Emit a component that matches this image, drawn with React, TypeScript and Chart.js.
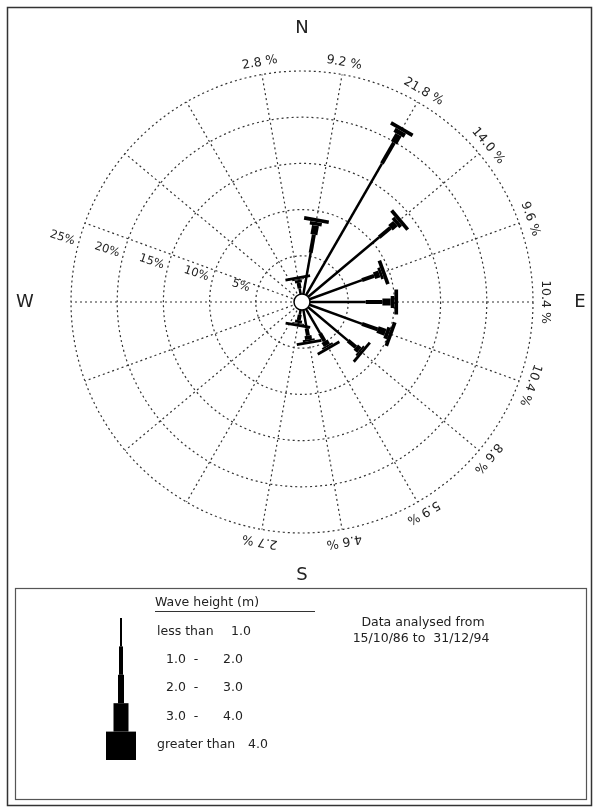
import React, { useEffect, useRef } from 'react';
import { Chart, registerables } from 'chart.js';

Chart.register(...registerables);

// Directions (sector centres, degrees clockwise from north)
const directions = ['10°', '30°', '50°', '70°', '90°', '110°', '130°', '150°', '170°', '190°', '210°', '230°', '250°', '270°', '290°', '310°', '330°', '350°'];
// Percentage of occurrence per direction (as printed round the rose)
const directionTotals = [9.2, 21.8, 14.0, 9.6, 10.4, 10.4, 8.6, 5.9, 4.6, 2.7, 0, 0, 0, 0, 0, 0, 0, 2.8];

// Wave height classes
const heightClasses = ['less than 1.0', '1.0 - 2.0', '2.0 - 3.0', '3.0 - 4.0', 'greater than 4.0'];
const lessThan1 = [5.4, 17.3, 10.9, 6.9, 6.9, 6.9, 6.5, 3.9, 2.9, 1.4, 0, 0, 0, 0, 0, 0, 0, 1.5];
const from1to2 = [2.0, 2.6, 1.6, 1.4, 1.8, 1.8, 1.1, 1.0, 0.8, 0.6, 0, 0, 0, 0, 0, 0, 0, 0.6];
const from2to3 = [1.0, 1.0, 0.7, 0.6, 0.9, 0.9, 0.5, 0.5, 0.4, 0.3, 0, 0, 0, 0, 0, 0, 0, 0.3];
const from3to4 = [0.4, 0.5, 0.4, 0.3, 0.4, 0.4, 0.2, 0.2, 0.2, 0.1, 0, 0, 0, 0, 0, 0, 0, 0.1];
const greaterThan4 = [0.4, 0.4, 0.4, 0.4, 0.4, 0.4, 0.3, 0.3, 0.3, 0.3, 0, 0, 0, 0, 0, 0, 0, 0.3];

// Ring scale
const ringTicks = [5, 10, 15, 20, 25];
const tickLabels = ['5%', '10%', '15%', '20%', '25%'];
const compassLabels = ['N', 'E', 'S', 'W'];
const legendTitle = 'Wave height (m)';
const legendRows = [
  ['less than', '1.0'],
  ['1.0  -', '2.0'],
  ['2.0  -', '3.0'],
  ['3.0  -', '4.0'],
  ['greater than', '4.0'],
];
const periodLines = ['Data analysed from', '15/10/86 to  31/12/94'];

const FONT = '"DejaVu Sans", "Noto Sans", sans-serif';
const INK = '#222';

const roseWidths = [2.5, 4, 7, 12, 25];
const legendWidths = [2, 4, 6, 15, 30];

const rosePlugin = {
  id: 'waveRose',
  afterDatasetsDraw(chart: any) {
    const ctx: CanvasRenderingContext2D = chart.ctx;
    const r = chart.scales.r;
    const n = chart.data.labels.length;
    ctx.save();

    // Rays
    ctx.strokeStyle = '#000';
    ctx.lineCap = 'butt';
    for (let i = 0; i < n; i++) {
      let start = 0;
      chart.data.datasets.forEach((ds: any, k: number) => {
        const v = ds.data[i];
        if (!v) return;
        const a = r.getPointPositionForValue(i, start);
        const b = r.getPointPositionForValue(i, start + v);
        ctx.lineWidth = roseWidths[k];
        ctx.beginPath();
        ctx.moveTo(a.x, a.y);
        ctx.lineTo(b.x, b.y);
        ctx.stroke();
        start += v;
      });
    }

    // Centre circle
    ctx.beginPath();
    ctx.arc(r.xCenter, r.yCenter, 8, 0, Math.PI * 2);
    ctx.fillStyle = '#fff';
    ctx.fill();
    ctx.lineWidth = 1.5;
    ctx.strokeStyle = '#000';
    ctx.stroke();

    // Direction percentages
    ctx.fillStyle = INK;
    ctx.font = `12.5px ${FONT}`;
    ctx.textAlign = 'center';
    ctx.textBaseline = 'middle';
    for (let i = 0; i < n; i++) {
      const t = directionTotals[i];
      if (!t) continue;
      const p = r.getPointPosition(i, r.drawingArea + 12);
      ctx.save();
      ctx.translate(p.x, p.y);
      ctx.rotate(r.getIndexAngle(i));
      ctx.fillText(`${t.toFixed(1)} %`, 0, 0);
      ctx.restore();
    }

    // Ring labels
    ctx.font = `11.5px ${FONT}`;
    const ang = (285 * Math.PI) / 180;
    ringTicks.forEach((v, j) => {
      const d = r.getDistanceFromCenterForValue(v) + 17;
      const x = r.xCenter + d * Math.sin(ang);
      const y = r.yCenter - d * Math.cos(ang);
      ctx.save();
      ctx.translate(x, y);
      ctx.rotate((18 * Math.PI) / 180);
      ctx.fillText(tickLabels[j], 0, 0);
      ctx.restore();
    });

    // Compass letters
    ctx.font = `18px ${FONT}`;
    const R = r.drawingArea;
    ctx.fillText(compassLabels[0], r.xCenter, r.yCenter - R - 43);
    ctx.fillText(compassLabels[1], r.xCenter + R + 47, r.yCenter);
    ctx.fillText(compassLabels[2], r.xCenter, r.yCenter + R + 42);
    ctx.fillText(compassLabels[3], r.xCenter - R - 46, r.yCenter);

    // Page frame
    ctx.strokeStyle = '#333';
    ctx.lineWidth = 1.5;
    ctx.strokeRect(7.5, 7.5, 584, 798);

    // Legend box
    ctx.lineWidth = 1.2;
    ctx.strokeStyle = '#555';
    ctx.strokeRect(15.5, 588.5, 571, 211);

    // Legend title
    ctx.fillStyle = INK;
    ctx.font = `12.5px ${FONT}`;
    ctx.textAlign = 'left';
    ctx.fillText(legendTitle, 155, 603);
    ctx.lineWidth = 1;
    ctx.strokeStyle = '#333';
    ctx.beginPath();
    ctx.moveTo(155, 611.5);
    ctx.lineTo(315, 611.5);
    ctx.stroke();

    // Legend bar + rows
    const top = 618;
    const seg = 28.4;
    ctx.strokeStyle = '#000';
    heightClasses.forEach((_, k) => {
      ctx.lineWidth = legendWidths[k];
      ctx.beginPath();
      ctx.moveTo(121, top + seg * k);
      ctx.lineTo(121, top + seg * (k + 1));
      ctx.stroke();
    });
    const rowY = [632, 660, 688, 717, 745];
    const leftX = [157, 166, 166, 166, 157];
    const rightX = [251, 243, 243, 243, 268];
    legendRows.forEach((row, k) => {
      ctx.textAlign = 'left';
      ctx.fillText(row[0], leftX[k], rowY[k]);
      ctx.textAlign = 'right';
      ctx.fillText(row[1], rightX[k], rowY[k]);
    });

    // Period text
    ctx.textAlign = 'center';
    ctx.fillText(periodLines[0], 423, 623);
    ctx.fillText(periodLines[1], 421, 639);

    ctx.restore();
  },
};

export default function App() {
  const ref = useRef<HTMLCanvasElement>(null);
  useEffect(() => {
    const series = [lessThan1, from1to2, from2to3, from3to4, greaterThan4];
    const chart = new Chart(ref.current as HTMLCanvasElement, {
      type: 'radar',
      data: {
        labels: directions,
        datasets: series.map((data, k) => ({
          label: heightClasses[k],
          data,
          showLine: false,
          borderWidth: 0,
          backgroundColor: 'rgba(0,0,0,0)',
          pointRadius: 0,
          pointHoverRadius: 0,
          fill: false,
        })),
      },
      options: {
        responsive: false,
        animation: false,
        devicePixelRatio: 1,
        events: [],
        layout: { padding: { left: 71, right: 64, top: 71, bottom: 278 } },
        plugins: { legend: { display: false }, tooltip: { enabled: false } },
        scales: {
          r: {
            min: 0,
            max: 25,
            startAngle: 10,
            ticks: { display: false, stepSize: 5 },
            pointLabels: { display: false },
            grid: { circular: true, color: '#333', lineWidth: 1.2 },
            border: { dash: [2, 3] },
            angleLines: { display: true, color: '#333', lineWidth: 1.2, borderDash: [2, 3] },
          },
        },
      } as any,
      plugins: [rosePlugin],
    });
    return () => chart.destroy();
  }, []);
  return (
    <div style={{ position: 'absolute', left: 0, top: 0, width: 597, height: 811, background: '#fff' }}>
      <canvas ref={ref} width={597} height={811} style={{ display: 'block' }} />
    </div>
  );
}
